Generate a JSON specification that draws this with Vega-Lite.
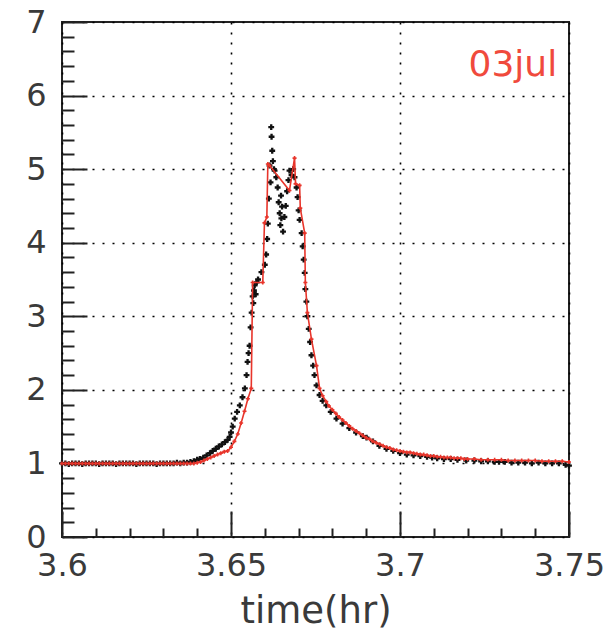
{
  "$schema": "https://vega.github.io/schema/vega-lite/v6.json",
  "width": 507,
  "height": 515,
  "autosize": {"type": "none"},
  "padding": {"left": 62, "top": 22, "right": 41, "bottom": 99},
  "background": "white",
  "config": {
    "view": {"stroke": "#222", "strokeWidth": 2},
    "font": "DejaVu Sans",
    "axis": {
      "domain": false,
      "labelFont": "DejaVu Sans",
      "labelFontSize": 32,
      "labelColor": "#3a3a3a",
      "labelFlush": false,
      "labelOverlap": false,
      "labelBound": false,
      "tickColor": "#222",
      "tickWidth": 2,
      "tickCount": 200,
      "grid": true,
      "gridColor": "#000",
      "gridDash": [2, 8],
      "gridWidth": 1.6,
      "titleFont": "DejaVu Sans",
      "titleFontSize": 37,
      "titleFontWeight": "normal",
      "titleColor": "#3a3a3a"
    }
  },
  "datasets": {
    "black": [
      {"t":3.600,"v":1.00},{"t":3.601,"v":1.00},{"t":3.602,"v":0.99},{"t":3.603,"v":1.00},{"t":3.604,"v":1.00},{"t":3.605,"v":1.00},{"t":3.606,"v":0.99},{"t":3.607,"v":1.00},{"t":3.608,"v":1.00},{"t":3.609,"v":1.00},
      {"t":3.610,"v":1.00},{"t":3.611,"v":0.99},{"t":3.612,"v":1.00},{"t":3.613,"v":1.00},{"t":3.614,"v":1.00},{"t":3.615,"v":1.00},{"t":3.616,"v":0.99},{"t":3.617,"v":1.00},{"t":3.618,"v":1.00},{"t":3.619,"v":1.00},
      {"t":3.620,"v":1.00},{"t":3.621,"v":1.00},{"t":3.622,"v":0.99},{"t":3.623,"v":1.00},{"t":3.624,"v":1.00},{"t":3.625,"v":1.00},{"t":3.626,"v":1.00},{"t":3.627,"v":1.00},{"t":3.628,"v":0.99},{"t":3.629,"v":1.00},
      {"t":3.630,"v":1.00},{"t":3.631,"v":1.00},{"t":3.632,"v":1.00},{"t":3.633,"v":1.00},{"t":3.634,"v":1.01},{"t":3.635,"v":1.00},{"t":3.636,"v":1.01},{"t":3.637,"v":1.01},{"t":3.638,"v":1.02},
      {"t":3.6390,"v":1.03},{"t":3.6400,"v":1.05},{"t":3.6408,"v":1.06},{"t":3.6418,"v":1.08},{"t":3.6428,"v":1.11},{"t":3.6438,"v":1.14},{"t":3.6446,"v":1.17},{"t":3.6455,"v":1.20},{"t":3.6464,"v":1.23},{"t":3.6473,"v":1.26},
      {"t":3.6482,"v":1.29},{"t":3.6490,"v":1.32},{"t":3.6496,"v":1.36},{"t":3.6500,"v":1.42},{"t":3.6505,"v":1.50},{"t":3.6511,"v":1.61},{"t":3.6518,"v":1.70},{"t":3.6526,"v":1.79},{"t":3.6534,"v":1.90},{"t":3.6541,"v":2.02},
      {"t":3.6546,"v":2.20},{"t":3.6549,"v":2.38},{"t":3.6552,"v":2.50},{"t":3.6555,"v":2.60},{"t":3.6558,"v":2.85},{"t":3.6561,"v":3.05},{"t":3.6564,"v":3.27},{"t":3.6566,"v":3.18},{"t":3.6568,"v":3.35},{"t":3.6570,"v":3.42},
      {"t":3.6573,"v":3.30},{"t":3.6576,"v":3.46},{"t":3.6580,"v":3.50},{"t":3.6590,"v":3.60},{"t":3.6600,"v":3.70},{"t":3.6604,"v":3.84},{"t":3.6607,"v":4.05},{"t":3.6609,"v":4.26},{"t":3.6612,"v":4.60},{"t":3.6614,"v":5.05},
      {"t":3.6617,"v":4.82},{"t":3.6619,"v":5.57},{"t":3.6620,"v":5.44},{"t":3.6622,"v":5.25},{"t":3.6624,"v":5.11},{"t":3.6627,"v":5.00},{"t":3.6629,"v":4.98},{"t":3.6634,"v":4.89},{"t":3.6638,"v":4.75},{"t":3.6641,"v":4.55},
      {"t":3.6644,"v":4.40},{"t":3.6646,"v":4.24},{"t":3.6648,"v":4.64},{"t":3.6649,"v":4.33},{"t":3.6651,"v":4.49},{"t":3.6654,"v":4.15},{"t":3.6658,"v":4.35},{"t":3.6662,"v":4.50},{"t":3.6666,"v":4.70},{"t":3.6670,"v":4.85},
      {"t":3.6673,"v":4.98},{"t":3.6679,"v":4.92},{"t":3.6684,"v":5.00},{"t":3.6688,"v":4.89},{"t":3.6694,"v":4.75},{"t":3.6697,"v":4.62},{"t":3.6700,"v":4.44},{"t":3.6703,"v":4.31},{"t":3.6709,"v":4.13},{"t":3.6712,"v":3.95},
      {"t":3.6715,"v":3.77},{"t":3.6718,"v":3.59},{"t":3.6720,"v":3.37},{"t":3.6723,"v":3.20},{"t":3.6726,"v":3.00},{"t":3.6730,"v":2.83},{"t":3.6734,"v":2.65},{"t":3.6738,"v":2.47},{"t":3.6743,"v":2.33},{"t":3.6747,"v":2.20},
      {"t":3.6753,"v":2.06},{"t":3.6762,"v":1.93},{"t":3.6771,"v":1.85},{"t":3.6782,"v":1.79},{"t":3.6795,"v":1.70},{"t":3.6812,"v":1.61},{"t":3.6830,"v":1.54},{"t":3.6850,"v":1.48},{"t":3.6870,"v":1.42},{"t":3.6890,"v":1.37},
      {"t":3.6901,"v":1.35},{"t":3.6920,"v":1.30},{"t":3.6939,"v":1.24},{"t":3.6960,"v":1.20},{"t":3.6980,"v":1.17},{"t":3.7000,"v":1.14},{"t":3.7020,"v":1.12},{"t":3.7040,"v":1.11},{"t":3.7060,"v":1.10},{"t":3.7080,"v":1.09},
      {"t":3.7095,"v":1.08},{"t":3.7110,"v":1.07},{"t":3.7130,"v":1.06},{"t":3.7150,"v":1.06},{"t":3.7170,"v":1.05},{"t":3.7196,"v":1.04},{"t":3.7220,"v":1.04},{"t":3.7240,"v":1.03},{"t":3.7260,"v":1.03},{"t":3.7280,"v":1.02},
      {"t":3.7293,"v":1.02},{"t":3.7310,"v":1.02},{"t":3.7330,"v":1.01},{"t":3.7350,"v":1.01},{"t":3.7370,"v":1.01},{"t":3.7390,"v":1.00},{"t":3.7410,"v":1.01},{"t":3.7430,"v":1.00},{"t":3.7450,"v":1.00},{"t":3.7470,"v":1.00},
      {"t":3.7490,"v":0.98},{"t":3.7500,"v":0.97}
    ],
    "red": [
      {"t":3.600,"v":1.00},{"t":3.601,"v":1.00},{"t":3.602,"v":1.00},{"t":3.603,"v":1.00},{"t":3.604,"v":1.00},{"t":3.605,"v":1.00},{"t":3.606,"v":1.00},{"t":3.607,"v":1.00},{"t":3.608,"v":1.00},{"t":3.609,"v":1.00},
      {"t":3.610,"v":1.00},{"t":3.611,"v":1.00},{"t":3.612,"v":1.00},{"t":3.613,"v":1.00},{"t":3.614,"v":1.00},{"t":3.615,"v":1.00},{"t":3.616,"v":1.00},{"t":3.617,"v":1.00},{"t":3.618,"v":1.00},{"t":3.619,"v":1.00},
      {"t":3.620,"v":1.00},{"t":3.621,"v":1.00},{"t":3.622,"v":1.00},{"t":3.623,"v":1.00},{"t":3.624,"v":1.00},{"t":3.625,"v":1.00},{"t":3.626,"v":1.00},{"t":3.627,"v":1.00},{"t":3.628,"v":1.00},{"t":3.629,"v":1.00},
      {"t":3.630,"v":1.00},{"t":3.631,"v":1.00},{"t":3.632,"v":1.00},{"t":3.633,"v":1.00},{"t":3.634,"v":1.00},{"t":3.635,"v":1.00},{"t":3.636,"v":1.00},{"t":3.637,"v":1.00},{"t":3.638,"v":1.00},{"t":3.639,"v":1.00},
      {"t":3.640,"v":1.01},{"t":3.641,"v":1.02},{"t":3.642,"v":1.04},{"t":3.643,"v":1.06},{"t":3.644,"v":1.08},{"t":3.645,"v":1.10},{"t":3.646,"v":1.12},{"t":3.647,"v":1.14},{"t":3.648,"v":1.16},{"t":3.649,"v":1.17},
      {"t":3.650,"v":1.22},{"t":3.651,"v":1.30},{"t":3.652,"v":1.40},{"t":3.653,"v":1.55},{"t":3.654,"v":1.71},{"t":3.655,"v":1.88},{"t":3.656,"v":2.02},
      {"t":3.6564,"v":3.46},{"t":3.6594,"v":3.46},{"t":3.6599,"v":4.27},{"t":3.6606,"v":4.35},{"t":3.6609,"v":5.07},{"t":3.6614,"v":5.05},
      {"t":3.6673,"v":4.71},{"t":3.6688,"v":5.15},{"t":3.6691,"v":4.80},{"t":3.6703,"v":4.78},{"t":3.6705,"v":4.47},{"t":3.6718,"v":4.13},{"t":3.6720,"v":3.46},
      {"t":3.6726,"v":3.05},{"t":3.6738,"v":2.69},{"t":3.6753,"v":2.33},{"t":3.6762,"v":2.02},{"t":3.6771,"v":1.92},{"t":3.6782,"v":1.84},
      {"t":3.679,"v":1.78},{"t":3.680,"v":1.73},{"t":3.681,"v":1.68},{"t":3.682,"v":1.63},{"t":3.683,"v":1.59},{"t":3.684,"v":1.55},{"t":3.685,"v":1.51},{"t":3.686,"v":1.47},{"t":3.687,"v":1.44},{"t":3.688,"v":1.41},
      {"t":3.689,"v":1.38},{"t":3.690,"v":1.35},{"t":3.691,"v":1.33},{"t":3.692,"v":1.30},{"t":3.693,"v":1.28},{"t":3.694,"v":1.26},{"t":3.695,"v":1.24},{"t":3.696,"v":1.22},{"t":3.697,"v":1.21},{"t":3.698,"v":1.19},
      {"t":3.699,"v":1.18},{"t":3.700,"v":1.17},{"t":3.701,"v":1.16},{"t":3.702,"v":1.15},{"t":3.703,"v":1.15},{"t":3.704,"v":1.14},{"t":3.705,"v":1.13},{"t":3.706,"v":1.12},{"t":3.707,"v":1.12},{"t":3.708,"v":1.11},
      {"t":3.709,"v":1.10},{"t":3.710,"v":1.10},{"t":3.711,"v":1.09},{"t":3.712,"v":1.09},{"t":3.713,"v":1.08},{"t":3.714,"v":1.08},{"t":3.715,"v":1.08},{"t":3.716,"v":1.07},{"t":3.717,"v":1.07},{"t":3.718,"v":1.07},
      {"t":3.719,"v":1.06},{"t":3.720,"v":1.06},{"t":3.722,"v":1.06},{"t":3.724,"v":1.05},{"t":3.726,"v":1.05},{"t":3.728,"v":1.05},{"t":3.730,"v":1.05},{"t":3.732,"v":1.04},{"t":3.734,"v":1.04},{"t":3.736,"v":1.04},
      {"t":3.738,"v":1.04},{"t":3.740,"v":1.04},{"t":3.742,"v":1.03},{"t":3.744,"v":1.03},{"t":3.746,"v":1.03},{"t":3.748,"v":1.03},{"t":3.750,"v":1.02}
    ]
  },
  "layer": [
    {
      "data": {"name": "black"},
      "mark": {"type": "point", "shape": "cross", "filled": true, "size": 34, "color": "#111", "opacity": 1},
      "encoding": {
        "x": {
          "field": "t", "type": "quantitative",
          "scale": {"domain": [3.6, 3.75], "nice": false, "zero": false},
          "axis": {
            "values": [3.6, 3.61, 3.62, 3.63, 3.64, 3.65, 3.66, 3.67, 3.68, 3.69, 3.7, 3.71, 3.72, 3.73, 3.74, 3.75],
            "tickCount": 200,
            "format": "~g",
            "labelExpr": "abs(datum.value*20-round(datum.value*20))<0.001 ? datum.label : ''",
            "tickSize": {"condition": {"test": "abs(datum.value*20-round(datum.value*20))<0.001", "value": -26}, "value": -9},
            "gridOpacity": {"condition": {"test": "abs(datum.value*20-round(datum.value*20))<0.001", "value": 1}, "value": 0},
            "labelPadding": 39,
            "title": "time(hr)",
            "titlePadding": -5
          }
        },
        "y": {
          "field": "v", "type": "quantitative",
          "scale": {"domain": [0, 7], "nice": false, "zero": false},
          "axis": {
            "values": [0,0.2,0.4,0.6,0.8,1,1.2,1.4,1.6,1.8,2,2.2,2.4,2.6,2.8,3,3.2,3.4,3.6,3.8,4,4.2,4.4,4.6,4.8,5,5.2,5.4,5.6,5.8,6,6.2,6.4,6.6,6.8,7],
            "tickCount": 200,
            "format": "~g",
            "labelExpr": "abs(datum.value-round(datum.value))<0.001 ? datum.label : ''",
            "tickSize": {"condition": {"test": "abs(datum.value-round(datum.value))<0.001", "value": -25}, "value": -12},
            "gridOpacity": {"condition": {"test": "abs(datum.value-round(datum.value))<0.001", "value": 1}, "value": 0},
            "labelPadding": 41,
            "title": null
          }
        }
      }
    },
    {
      "data": {"name": "red"},
      "mark": {"type": "line", "color": "#e8352b", "strokeWidth": 1.6, "point": {"shape": "cross", "filled": true, "size": 16, "color": "#e8352b"}},
      "encoding": {
        "x": {"field": "t", "type": "quantitative"},
        "y": {"field": "v", "type": "quantitative"}
      }
    },
    {
      "data": {"values": [{"t": 3.7465, "v": 6.42, "label": "03jul"}]},
      "mark": {"type": "text", "align": "right", "baseline": "middle", "font": "DejaVu Sans", "fontSize": 36, "color": "#f04a3c"},
      "encoding": {
        "x": {"field": "t", "type": "quantitative"},
        "y": {"field": "v", "type": "quantitative"},
        "text": {"field": "label"}
      }
    }
  ]
}
